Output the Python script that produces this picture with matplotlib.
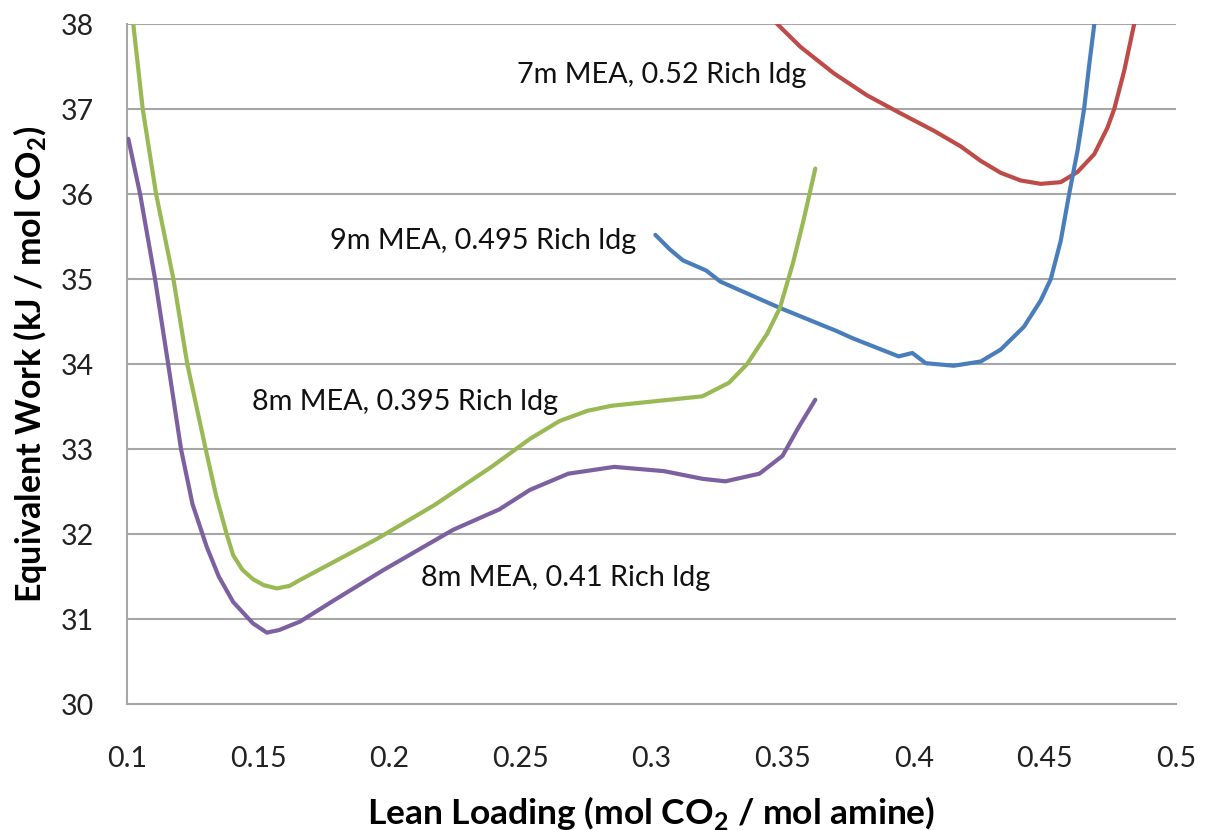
import matplotlib
matplotlib.use("Agg")
import matplotlib.pyplot as plt

# 7m MEA, 0.52 rich loading (red)
x_7m = [0.340, 0.348, 0.3569, 0.3696, 0.3823, 0.395, 0.408, 0.418, 0.4256, 0.4332,
        0.4408, 0.4485, 0.4561, 0.4625, 0.4689, 0.4739, 0.4765, 0.4803, 0.4841, 0.4855]
y_7m = [38.30, 38.00, 37.73, 37.42, 37.16, 36.95, 36.74, 36.56, 36.39, 36.25,
        36.16, 36.12, 36.14, 36.26, 36.47, 36.78, 37.00, 37.45, 38.00, 38.40]

# 9m MEA, 0.495 rich loading (blue)
x_9m = [0.3015, 0.307, 0.312, 0.3187, 0.3209, 0.3263, 0.349, 0.3705, 0.377, 0.3943,
        0.3995, 0.4046, 0.4153, 0.4256, 0.4332, 0.4421, 0.4485, 0.4523, 0.4561, 0.4593,
        0.4625, 0.465, 0.467, 0.4689, 0.4705]
y_9m = [35.52, 35.35, 35.22, 35.13, 35.10, 34.97, 34.66, 34.39, 34.30, 34.09,
        34.13, 34.01, 33.98, 34.03, 34.17, 34.44, 34.75, 35.00, 35.45, 36.00,
        36.51, 37.00, 37.53, 38.00, 38.40]

# 8m MEA, 0.395 rich loading (green)
x_8m_395 = [0.1000, 0.1024, 0.106, 0.1111, 0.1177, 0.123, 0.130, 0.134, 0.138, 0.1405,
            0.144, 0.148, 0.152, 0.1571, 0.162, 0.166, 0.1952, 0.2172, 0.239, 0.2537,
            0.265, 0.2756, 0.285, 0.2975, 0.3194, 0.3296, 0.3365, 0.3442, 0.349, 0.354,
            0.358, 0.3625]
y_8m_395 = [38.67, 38.00, 37.00, 36.00, 35.00, 34.00, 33.00, 32.45, 32.00, 31.75,
            31.58, 31.47, 31.40, 31.36, 31.39, 31.46, 31.94, 32.34, 32.79, 33.12,
            33.33, 33.45, 33.51, 33.55, 33.62, 33.78, 34.00, 34.36, 34.66, 35.19,
            35.69, 36.30]

# 8m MEA, 0.41 rich loading (purple)
x_8m_41 = [0.1005, 0.105, 0.1107, 0.1157, 0.1206, 0.125, 0.1304, 0.135, 0.1405, 0.148,
           0.1533, 0.158, 0.166, 0.180, 0.198, 0.2244, 0.242, 0.2537, 0.2683, 0.2858,
           0.3048, 0.3194, 0.3282, 0.3412, 0.350, 0.356, 0.3625]
y_8m_41 = [36.65, 36.00, 35.00, 34.00, 33.00, 32.35, 31.85, 31.50, 31.20, 30.95,
           30.84, 30.87, 30.97, 31.24, 31.58, 32.05, 32.29, 32.52, 32.71, 32.79,
           32.74, 32.65, 32.62, 32.71, 32.92, 33.25, 33.58]

labels = ["7m MEA, 0.52 Rich ldg", "9m MEA, 0.495 Rich ldg",
          "8m MEA, 0.395 Rich ldg", "8m MEA, 0.41 Rich ldg"]
label_pos = [(0.2489, 37.40), (0.1775, 35.45), (0.1477, 33.55), (0.2122, 31.48)]

x_ticks = [0.1, 0.15, 0.2, 0.25, 0.3, 0.35, 0.4, 0.45, 0.5]
y_ticks = [30, 31, 32, 33, 34, 35, 36, 37, 38]

plt.rcParams["font.family"] = ["Lato", "DejaVu Sans"]
plt.rcParams["mathtext.fontset"] = "custom"
plt.rcParams["mathtext.rm"] = "Lato"
plt.rcParams["mathtext.bf"] = "Lato:bold"

fig = plt.figure(figsize=(12.06, 8.30), dpi=100)
ax = fig.add_axes([0.1053, 0.1518, 0.8697, 0.8192])

lw = 3.0
ax.plot(x_7m, y_7m, color="#BE4B48", lw=lw, solid_capstyle="round",
        solid_joinstyle="round", zorder=3)
ax.plot(x_9m, y_9m, color="#4A7EBB", lw=lw, solid_capstyle="round",
        solid_joinstyle="round", zorder=3)
ax.plot(x_8m_395, y_8m_395, color="#98B954", lw=lw, solid_capstyle="round",
        solid_joinstyle="round", zorder=3)
ax.plot(x_8m_41, y_8m_41, color="#7D60A0", lw=lw, solid_capstyle="round",
        solid_joinstyle="round", zorder=3)

for txt, (tx, ty) in zip(labels, label_pos):
    ax.text(tx, ty, txt, fontsize=20.8, ha="left", va="center", color="#111111")

ax.set_xlim(0.1, 0.5)
ax.set_ylim(30, 38)
ax.set_xticks(x_ticks)
ax.set_xticklabels([f"{v:g}" for v in x_ticks])
ax.set_yticks(y_ticks)
ax.tick_params(length=0, labelsize=20.5, colors="#222222")
ax.tick_params(axis="x", pad=30)
ax.tick_params(axis="y", pad=24)

ax.grid(axis="y", color="#A6A6A6", lw=1.5)
ax.set_axisbelow(True)
for s in ["top", "right"]:
    ax.spines[s].set_visible(False)
for s in ["left", "bottom"]:
    ax.spines[s].set_color("#A6A6A6")
    ax.spines[s].set_linewidth(1.5)

ax.set_xlabel(r"Lean Loading (mol CO$_\mathbf{2}$ / mol amine)",
              fontsize=25.5, fontweight="bold", labelpad=16)
ax.set_ylabel(r"Equivalent Work (kJ / mol CO$_\mathbf{2}$)",
              fontsize=24.5, fontweight="bold", labelpad=8)

fig.savefig("out.png", dpi=100)
